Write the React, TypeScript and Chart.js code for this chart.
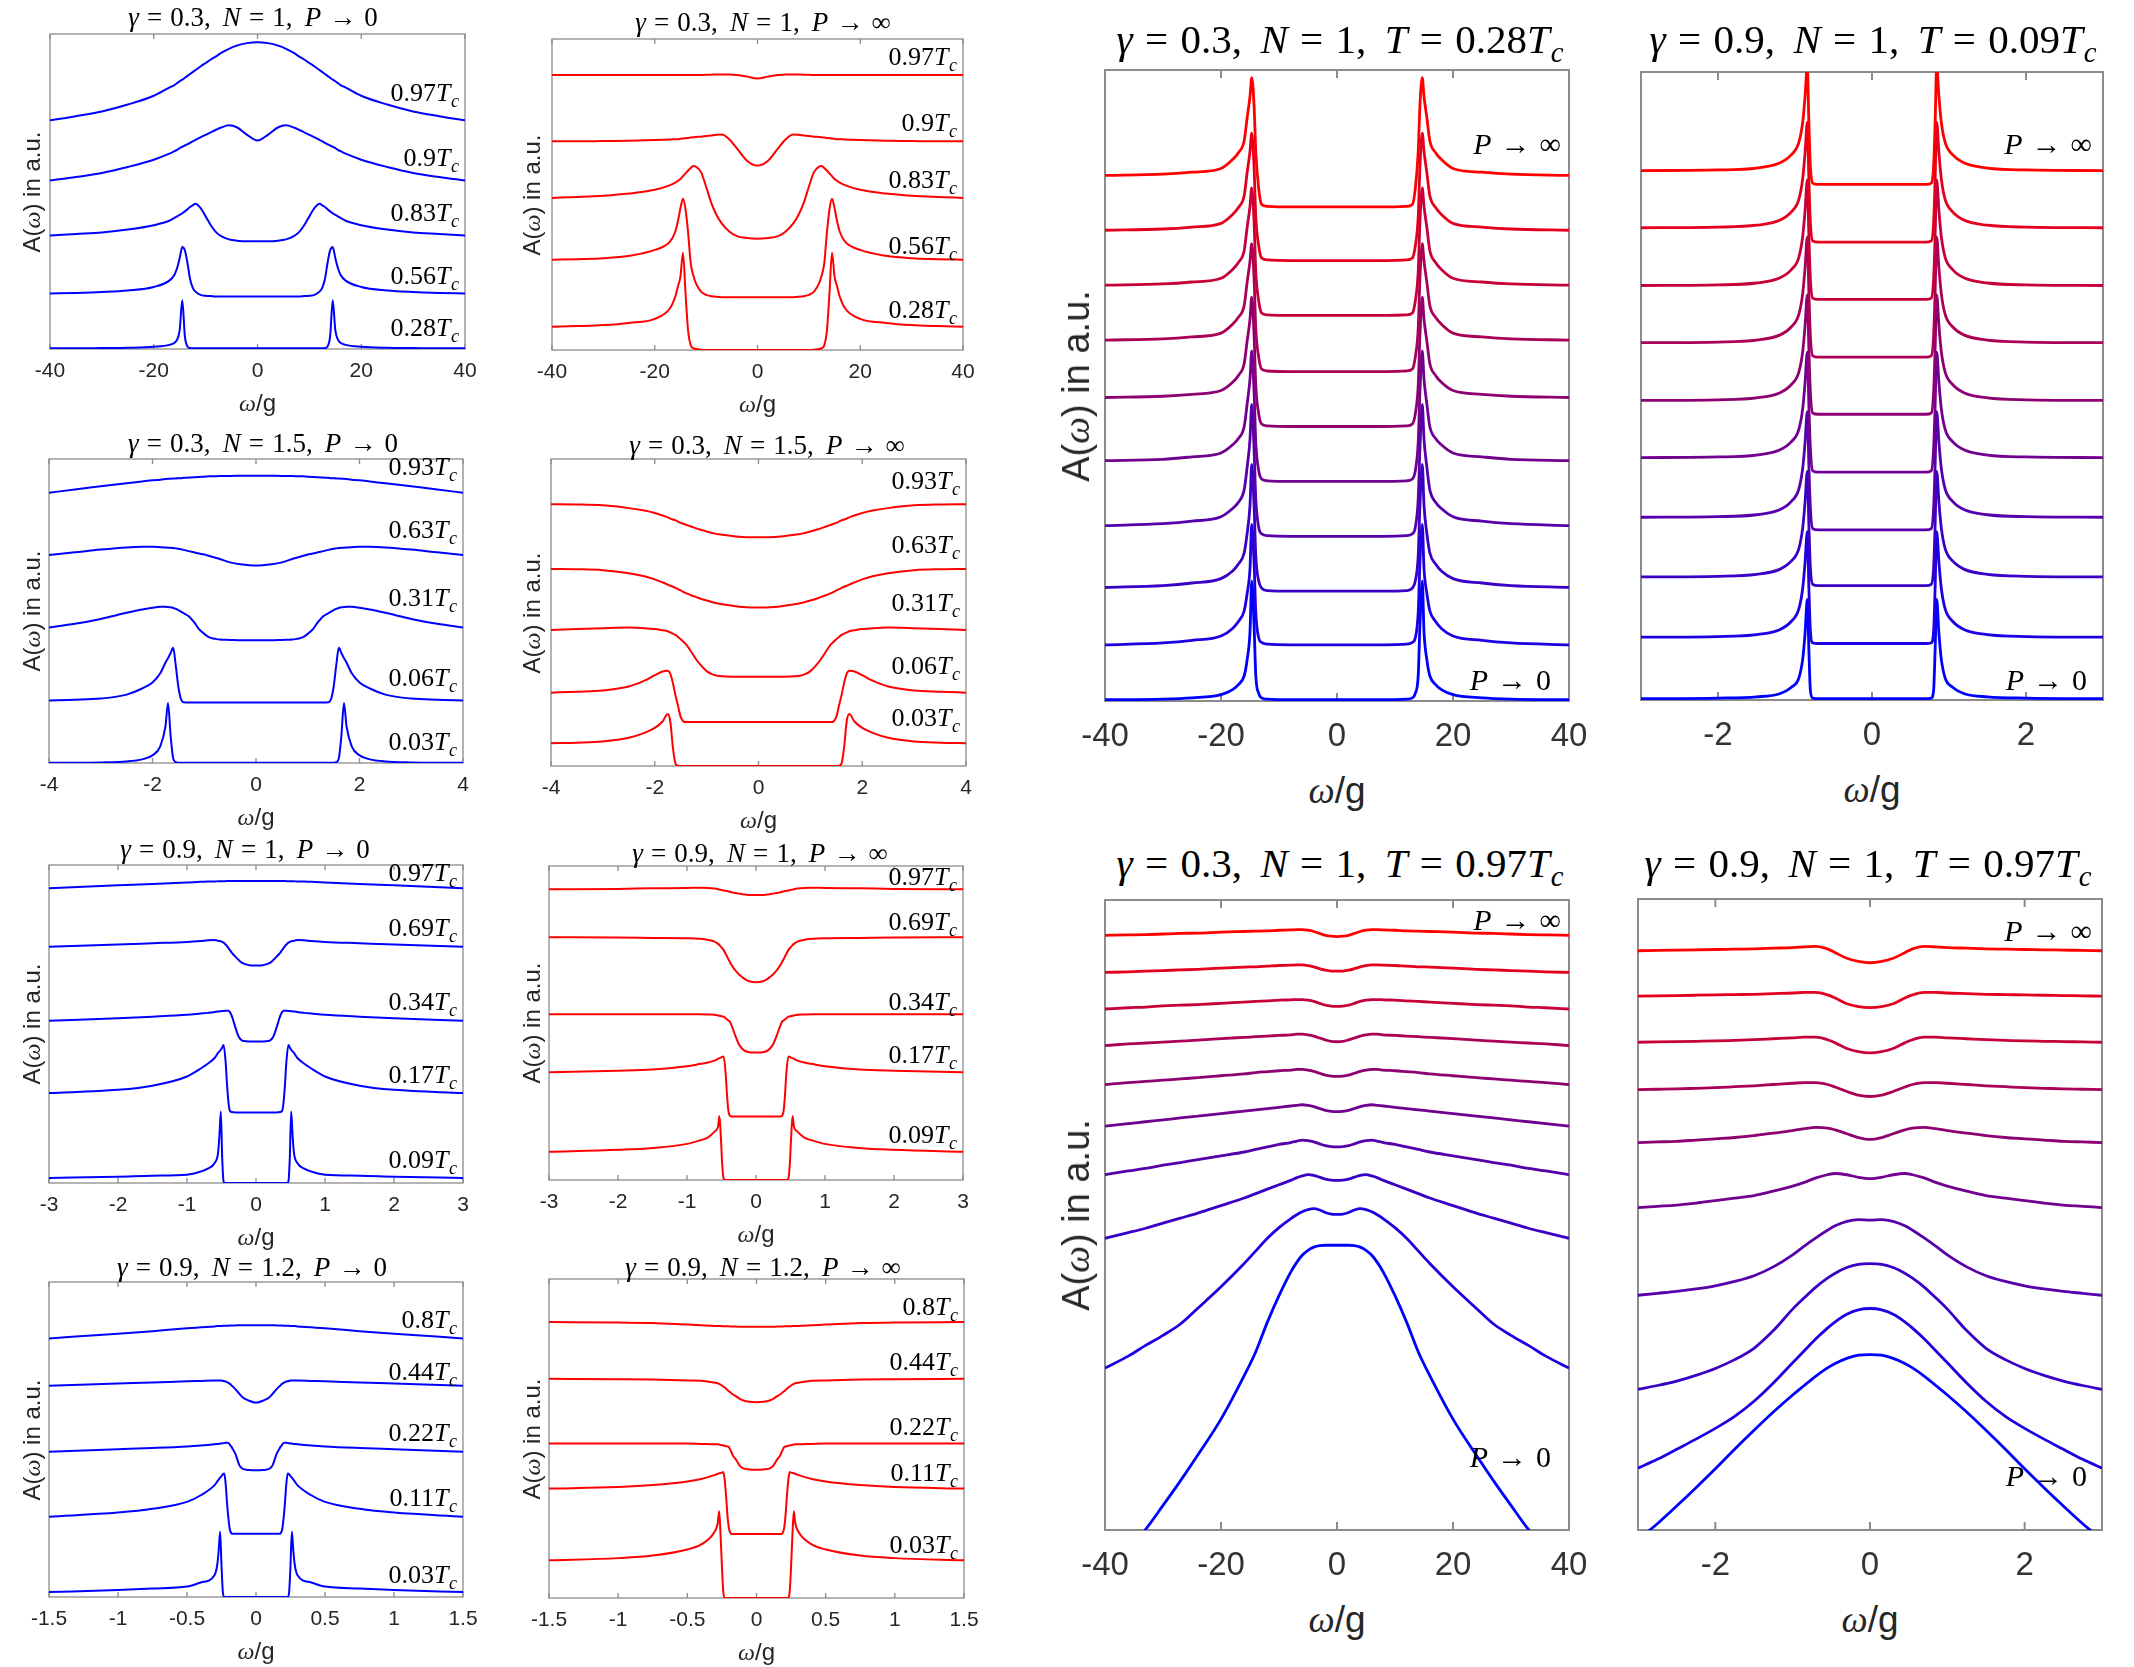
import React, { useEffect, useRef } from "react";
import { Chart, registerables } from "chart.js";
Chart.register(...registerables);

// ---------------- tick labels ----------------
const TICKS_40 = [-40, -20, 0, 20, 40];
const TICKS_4 = [-4, -2, 0, 2, 4];
const TICKS_3 = [-3, -2, -1, 0, 1, 2, 3];
const TICKS_15 = [-1.5, -1, -0.5, 0, 0.5, 1, 1.5];
const TICKS_3B = [-2, 0, 2];

// ---------------- temperature labels ----------------
const LAB_A = ["0.97", "0.9", "0.83", "0.56", "0.28"];
const LAB_B = ["0.93", "0.63", "0.31", "0.06", "0.03"];
const LAB_C = ["0.97", "0.69", "0.34", "0.17", "0.09"];
const LAB_D = ["0.8", "0.44", "0.22", "0.11", "0.03"];

// ---------------- ω/g grids ----------------
const W_A = [-40,-35,-30,-25,-20,-17,-16,-15.5,-15,-14.5,-14,-13.5,-13,-12.5,-12,-11,-10,-9,-8,-7,-5.5,-4,-2,0,
  2,4,5.5,7,8,9,10,11,12,12.5,13,13.5,14,14.5,15,15.5,16,17,20,25,30,35,40];
const W_B = [-4,-3.5,-3,-2.5,-2.2,-2,-1.85,-1.75,-1.7,-1.65,-1.6,-1.55,-1.5,-1.45,-1.4,-1.3,-1.2,-1.1,-1,-0.9,-0.8,-0.7,-0.5,-0.3,0,
  0.3,0.5,0.7,0.8,0.9,1,1.1,1.2,1.3,1.4,1.45,1.5,1.55,1.6,1.65,1.7,1.75,1.85,2,2.2,2.5,3,3.5,4];
const W_C = [-3,-2,-1.5,-1,-0.8,-0.7,-0.6,-0.55,-0.53,-0.51,-0.49,-0.47,-0.44,-0.42,-0.4,-0.38,-0.35,-0.3,-0.25,-0.2,-0.15,-0.1,0,
  0.1,0.15,0.2,0.25,0.3,0.35,0.38,0.4,0.42,0.44,0.47,0.49,0.51,0.53,0.55,0.6,0.7,0.8,1,1.5,2,3];
const W_D = [-1.5,-1,-0.75,-0.5,-0.4,-0.3,-0.28,-0.27,-0.26,-0.25,-0.24,-0.23,-0.22,-0.21,-0.2,-0.19,-0.18,-0.17,-0.15,-0.12,-0.1,-0.05,0,
  0.05,0.1,0.12,0.15,0.17,0.18,0.19,0.2,0.21,0.22,0.23,0.24,0.25,0.26,0.27,0.28,0.3,0.4,0.5,0.75,1,1.5];
const W_E = [-40,-30,-25,-20,-18,-17,-16,-15.5,-15,-14.7,-14.3,-14,-13.5,-13,-12,-8,0,
  8,12,13,13.5,14,14.3,14.7,15,15.5,16,17,18,20,25,30,40];
const W_F = [-3,-2,-1.5,-1.2,-1.05,-0.95,-0.9,-0.87,-0.84,-0.82,-0.8,-0.77,-0.7,-0.3,0,
  0.3,0.7,0.77,0.8,0.82,0.84,0.87,0.9,0.95,1.05,1.2,1.5,2,3];
const W_G = [-40,-36,-33,-30,-27,-24,-20,-16,-14,-12,-10,-8,-7,-6,-5,-4,-3,-2,-1,0,
  1,2,3,4,5,6,7,8,10,12,14,16,20,24,27,30,33,36,40];
const W_H = [-3,-2.75,-2.5,-2.25,-2,-1.75,-1.5,-1.25,-1,-0.85,-0.7,-0.55,-0.45,-0.3,-0.15,0,
  0.15,0.3,0.45,0.55,0.7,0.85,1,1.25,1.5,1.75,2,2.25,2.5,2.75,3];

// ---------------- γ=0.3, N=1, P→0 ----------------
const A0_097 = [72.6,73.9,75.4,77.6,80.4,83.0,83.8,84.4,85.0,85.5,86.1,86.7,87.3,87.9,88.5,89.7,90.8,91.9,92.9,94.0,95.3,96.3,97.1,97.4,
  97.1,96.3,95.3,94.0,92.9,91.9,90.8,89.7,88.5,87.9,87.3,86.7,86.1,85.5,85.0,84.4,83.8,83.0,80.4,77.6,75.4,73.9,72.6];
const A0_090 = [53.5,54.6,55.9,57.8,60.1,62.0,62.8,63.2,63.8,64.2,64.6,65.0,65.4,65.9,66.3,67.2,68.0,68.8,69.6,70.3,71.0,70.4,68.0,66.2,
  68.0,70.4,71.0,70.3,69.6,68.8,68.0,67.2,66.3,65.9,65.4,65.0,64.6,64.2,63.8,63.2,62.8,62.0,60.1,57.8,55.9,54.6,53.5];
const A0_083 = [36.0,36.5,37.0,37.9,39.3,40.7,41.6,42.1,42.6,43.1,43.7,44.4,45.1,45.6,46.1,44.8,42.1,39.3,37.1,35.8,34.8,34.4,34.2,34.2,
  34.2,34.4,34.8,35.8,37.1,39.3,42.1,44.8,46.1,45.6,45.1,44.4,43.7,43.1,42.6,42.1,41.6,40.7,39.3,37.9,37.0,36.5,36.0];
const A0_056 = [17.6,17.8,18.1,18.6,19.7,21.7,23.6,25.7,28.9,32.4,31.3,27.3,22.2,19.5,18.3,17.2,16.9,16.8,16.7,16.7,16.7,16.7,16.7,16.7,
  16.7,16.7,16.7,16.7,16.7,16.8,16.9,17.2,18.3,19.5,22.2,27.3,31.3,32.4,28.9,25.7,23.6,21.7,19.7,18.6,18.1,17.8,17.6];
const A0_028 = [0.2,0.2,0.3,0.4,0.7,1.3,2.0,3.0,6.0,15.5,4.0,0.8,0.3,0.2,0.2,0.2,0.2,0.2,0.2,0.2,0.2,0.2,0.2,0.2,
  0.2,0.2,0.2,0.2,0.2,0.2,0.2,0.2,0.2,0.2,0.3,0.8,4.0,15.5,6.0,3.0,2.0,1.3,0.7,0.4,0.3,0.2,0.2];

// ---------------- γ=0.3, N=1, P→∞ ----------------
const AI_097 = [88.4,88.4,88.4,88.4,88.4,88.4,88.4,88.4,88.4,88.4,88.4,88.4,88.4,88.4,88.4,88.4,88.5,88.5,88.6,88.6,88.6,88.4,87.9,87.3,
  87.9,88.4,88.6,88.6,88.6,88.5,88.5,88.4,88.4,88.4,88.4,88.4,88.4,88.4,88.4,88.4,88.4,88.4,88.4,88.4,88.4,88.4,88.4];
const AI_090 = [67.1,67.1,67.2,67.3,67.5,67.7,67.8,67.8,67.9,68.0,68.1,68.2,68.3,68.4,68.5,68.6,68.8,69.0,69.2,69.3,67.8,64.8,60.8,59.3,
  60.8,64.8,67.8,69.3,69.2,69.0,68.8,68.6,68.5,68.4,68.3,68.2,68.1,68.0,67.9,67.8,67.8,67.7,67.5,67.3,67.2,67.1,67.1];
const AI_083 = [48.9,49.2,49.6,50.3,51.5,53.0,53.8,54.4,55.0,55.9,56.8,57.7,58.5,59.2,59.0,57.2,52.5,47.3,43.5,40.8,38.1,36.6,36.0,35.8,
  36.0,36.6,38.1,40.8,43.5,47.3,52.5,57.2,59.0,59.2,58.5,57.7,56.8,55.9,55.0,54.4,53.8,53.0,51.5,50.3,49.6,49.2,48.9];
const AI_056 = [29.0,29.2,29.5,30.3,32.2,34.9,38.1,41.3,45.6,48.6,45.1,37.6,27.9,24.0,21.5,18.8,17.7,17.3,17.1,17.0,17.0,17.0,17.0,17.0,
  17.0,17.0,17.0,17.0,17.1,17.3,17.7,18.8,21.5,24.0,27.9,37.6,45.1,48.6,45.6,41.3,38.1,34.9,32.2,30.3,29.5,29.2,29.0];
const AI_028 = [7.5,7.7,8.0,8.7,10.0,13.5,17.2,20.4,23.6,31.3,18.0,6.0,1.5,0.6,0.3,0.1,0,0,0,0,0,0,0,0,
  0,0,0,0,0,0,0,0.1,0.3,0.6,1.5,6.0,18.0,31.3,23.6,20.4,17.2,13.5,10.0,8.7,8.0,7.7,7.5];

// ---------------- γ=0.3, N=1.5, P→0 ----------------
const B0_093 = [88.9,90.0,91.0,92.0,92.6,93.0,93.2,93.4,93.5,93.5,93.6,93.6,93.7,93.7,93.8,93.9,94.0,94.1,94.2,94.3,94.3,94.4,94.4,94.5,94.5,
  94.5,94.4,94.4,94.3,94.3,94.2,94.1,94.0,93.9,93.8,93.7,93.7,93.6,93.6,93.5,93.5,93.4,93.2,93.0,92.6,92.0,91.0,90.0,88.9];
const B0_063 = [68.4,69.3,70.2,70.9,71.1,71.1,71.0,70.9,70.8,70.8,70.7,70.6,70.5,70.3,70.1,69.7,69.3,68.9,68.6,68.1,67.6,67.1,66.0,65.4,65.0,
  65.4,66.0,67.1,67.6,68.1,68.6,68.9,69.3,69.7,70.1,70.3,70.5,70.6,70.7,70.8,70.8,70.9,71.0,71.1,71.1,70.9,70.2,69.3,68.4];
const B0_031 = [44.6,45.8,47.4,49.4,50.5,51.1,51.4,51.4,51.3,51.2,51.0,50.7,50.3,49.8,49.3,48.3,46.4,44.0,42.5,41.3,40.9,40.6,40.5,40.4,40.4,
  40.4,40.5,40.6,40.9,41.3,42.5,44.0,46.4,48.3,49.3,49.8,50.3,50.7,51.0,51.2,51.3,51.4,51.4,51.1,50.5,49.4,47.4,45.8,44.6];
const B0_006 = [20.6,20.8,21.2,22.5,24.5,26.5,29.5,33.0,34.5,36.2,37.9,32.0,25.0,21.0,20.0,19.9,19.9,19.9,19.9,19.9,19.9,19.9,19.9,19.9,19.9,
  19.9,19.9,19.9,19.9,19.9,19.9,19.9,19.9,19.9,20.0,21.0,25.0,32.0,37.9,36.2,34.5,33.0,29.5,26.5,24.5,22.5,21.2,20.8,20.6];
const B0_003 = [0.1,0.1,0.2,0.5,1.2,2.5,5.5,12.0,19.7,9.0,1.5,0.3,0.1,0.1,0.1,0.1,0.1,0.1,0.1,0.1,0.1,0.1,0.1,0.1,0.1,
  0.1,0.1,0.1,0.1,0.1,0.1,0.1,0.1,0.1,0.1,0.1,0.1,0.3,1.5,9.0,19.7,12.0,5.5,2.5,1.2,0.5,0.2,0.1,0.1];

// ---------------- γ=0.3, N=1.5, P→∞ ----------------
const BI_093 = [85.3,85.2,84.9,84.0,83.2,82.4,81.6,81.0,80.6,80.3,80.0,79.6,79.2,78.9,78.6,78.0,77.4,76.9,76.4,75.9,75.6,75.3,74.9,74.6,74.5,
  74.6,74.9,75.3,75.6,75.9,76.4,76.9,77.4,78.0,78.6,78.9,79.2,79.6,80.0,80.3,80.6,81.0,81.6,82.4,83.2,84.0,84.9,85.2,85.3];
const BI_063 = [64.2,64.1,63.8,62.8,61.8,60.8,59.8,59.1,58.7,58.4,58.0,57.6,57.2,56.7,56.3,55.6,55.0,54.4,53.9,53.4,53.0,52.7,52.2,51.8,51.6,
  51.8,52.2,52.7,53.0,53.4,53.9,54.4,55.0,55.6,56.3,56.7,57.2,57.6,58.0,58.4,58.7,59.1,59.8,60.8,61.8,62.8,63.8,64.1,64.2];
const BI_031 = [44.3,44.6,44.9,45.1,44.9,44.6,44.2,43.9,43.5,43.1,42.7,42.0,41.3,40.5,39.7,37.3,34.7,32.6,30.9,29.9,29.4,29.2,29.1,29.1,29.1,
  29.1,29.1,29.2,29.4,29.9,30.9,32.6,34.7,37.3,39.7,40.5,41.3,42.0,42.7,43.1,43.5,43.9,44.2,44.6,44.9,45.1,44.9,44.6,44.3];
const BI_006 = [23.9,24.2,24.6,25.9,27.8,29.6,30.8,31.0,30.0,27.0,23.0,19.5,16.0,14.6,14.3,14.3,14.3,14.3,14.3,14.3,14.3,14.3,14.3,14.3,14.3,
  14.3,14.3,14.3,14.3,14.3,14.3,14.3,14.3,14.3,14.3,14.6,16.0,19.5,23.0,27.0,30.0,31.0,30.8,29.6,27.8,25.9,24.6,24.2,23.9];
const BI_003 = [7.4,7.6,8.0,9.2,10.8,12.4,14.5,16.9,14.5,6.0,0.8,0.1,0,0,0,0,0,0,0,0,0,0,0,0,0,
  0,0,0,0,0,0,0,0,0,0,0,0,0.1,0.8,6.0,14.5,16.9,14.5,12.4,10.8,9.2,8.0,7.6,7.4];

// ---------------- γ=0.9, N=1, P→0 ----------------
const C0_097 = [92.7,93.6,94.0,94.5,94.7,94.8,94.8,94.9,94.9,94.9,94.9,94.9,94.9,95.0,95.0,95.0,95.0,95.0,95.0,95.0,95.0,95.0,95.0,
  95.0,95.0,95.0,95.0,95.0,95.0,95.0,95.0,95.0,94.9,94.9,94.9,94.9,94.9,94.9,94.8,94.8,94.7,94.5,94.0,93.6,92.7];
const C0_069 = [74.3,75.0,75.4,75.8,76.1,76.3,76.4,76.2,76.1,76.0,75.8,75.6,75.0,74.5,73.9,73.3,72.4,71.2,70.1,69.2,68.8,68.5,68.4,
  68.5,68.8,69.2,70.1,71.2,72.4,73.3,73.9,74.5,75.0,75.6,75.8,76.0,76.1,76.2,76.4,76.3,76.1,75.8,75.4,75.0,74.3];
const C0_034 = [51.0,51.8,52.3,52.9,53.3,53.5,53.8,53.9,54.0,54.0,54.1,54.1,54.2,54.2,54.2,53.8,52.5,49.0,46.0,44.8,44.6,44.5,44.5,
  44.5,44.6,44.8,46.0,49.0,52.5,53.8,54.2,54.2,54.2,54.1,54.1,54.0,54.0,53.9,53.8,53.5,53.3,52.9,52.3,51.8,51.0];
const C0_017 = [28.3,29.3,30.6,33.5,36.0,37.5,39.3,40.9,41.4,41.9,42.6,43.4,38.0,31.0,25.5,22.8,22.3,22.2,22.2,22.2,22.2,22.2,22.2,
  22.2,22.2,22.2,22.2,22.2,22.3,22.8,25.5,31.0,38.0,43.4,42.6,41.9,41.4,40.9,39.3,37.5,36.0,33.5,30.6,29.3,28.3];
const C0_009 = [1.6,2.0,2.3,2.6,3.6,4.5,6.3,9.5,15.0,22.5,8.0,0.5,0,0,0,0,0,0,0,0,0,0,0,
  0,0,0,0,0,0,0,0,0,0,0.5,8.0,22.5,15.0,9.5,6.3,4.5,3.6,2.6,2.3,2.0,1.6];

// ---------------- γ=0.9, N=1, P→∞ ----------------
const CI_097 = [92.6,92.7,92.9,93.0,93.1,93.0,92.8,92.6,92.5,92.4,92.3,92.2,92.1,92.0,91.9,91.8,91.6,91.4,91.2,91.0,90.9,90.8,90.8,
  90.8,90.9,91.0,91.2,91.4,91.6,91.8,91.9,92.0,92.1,92.2,92.3,92.4,92.5,92.6,92.8,93.0,93.1,93.0,92.9,92.7,92.6];
const CI_069 = [77.3,77.2,77.1,77.0,76.8,76.5,75.9,75.2,74.8,74.3,73.8,73.3,72.0,71.2,70.3,69.5,68.3,66.8,65.5,64.6,63.8,63.3,63.0,
  63.3,63.8,64.6,65.5,66.8,68.3,69.5,70.3,71.2,72.0,73.3,73.8,74.3,74.8,75.2,75.9,76.5,76.8,77.0,77.1,77.2,77.3];
const CI_034 = [52.8,52.8,52.8,52.8,52.8,52.7,52.6,52.4,52.3,52.2,52.1,52.0,51.5,51.1,50.8,50.5,49.0,46.0,43.3,41.8,41.0,40.7,40.6,
  40.7,41.0,41.8,43.3,46.0,49.0,50.5,50.8,51.1,51.5,52.0,52.1,52.2,52.3,52.4,52.6,52.7,52.8,52.8,52.8,52.8,52.8];
const CI_017 = [34.3,34.8,35.2,36.2,37.0,37.4,38.0,38.6,38.8,39.0,39.2,39.3,34.0,27.0,22.0,20.5,20.2,20.2,20.2,20.2,20.2,20.2,20.2,
  20.2,20.2,20.2,20.2,20.2,20.2,20.5,22.0,27.0,34.0,39.3,39.2,39.0,38.8,38.6,38.0,37.4,37.0,36.2,35.2,34.8,34.3];
const CI_009 = [9.0,9.6,10.2,11.5,12.7,13.5,15.4,17.0,20.4,14.0,5.0,0.5,0,0,0,0,0,0,0,0,0,0,0,
  0,0,0,0,0,0,0,0,0,0,0.5,5.0,14.0,20.4,17.0,15.4,13.5,12.7,11.5,10.2,9.6,9.0];

// ---------------- γ=0.9, N=1.2, P→0 ----------------
const D0_08 = [82.1,83.6,84.4,85.3,85.6,85.9,86.0,86.0,86.0,86.0,86.1,86.1,86.1,86.1,86.1,86.2,86.2,86.2,86.2,86.3,86.3,86.3,86.3,
  86.3,86.3,86.3,86.2,86.2,86.2,86.2,86.1,86.1,86.1,86.1,86.1,86.0,86.0,86.0,86.0,85.9,85.6,85.3,84.4,83.6,82.1];
const D0_044 = [67.1,67.8,68.1,68.5,68.6,68.7,68.7,68.7,68.7,68.7,68.6,68.5,68.4,68.2,68.0,67.7,67.3,66.9,66.0,64.5,63.5,62.3,61.7,
  62.3,63.5,64.5,66.0,66.9,67.3,67.7,68.0,68.2,68.4,68.5,68.6,68.7,68.7,68.7,68.7,68.7,68.6,68.5,68.1,67.8,67.1];
const D0_022 = [46.1,46.9,47.3,47.8,48.1,48.5,48.6,48.6,48.7,48.7,48.8,48.9,49.0,49.0,48.9,48.4,47.8,47.1,45.5,41.8,40.8,40.3,40.2,
  40.3,40.8,41.8,45.5,47.1,47.8,48.4,48.9,49.0,49.0,48.9,48.8,48.7,48.7,48.6,48.6,48.5,48.1,47.8,47.3,46.9,46.1];
const D0_011 = [25.5,26.8,28.0,30.2,32.3,35.5,36.7,37.3,37.9,38.4,39.0,39.2,36.0,30.0,25.0,21.5,20.3,20.1,20.1,20.1,20.1,20.1,20.1,
  20.1,20.1,20.1,20.1,20.1,20.3,21.5,25.0,30.0,36.0,39.2,39.0,38.4,37.9,37.3,36.7,35.5,32.3,30.2,28.0,26.8,25.5];
const D0_003 = [1.6,2.2,2.7,3.3,4.6,7.0,10.5,15.0,20.7,10.0,1.5,0,0,0,0,0,0,0,0,0,0,0,0,
  0,0,0,0,0,0,0,0,0,0,0,1.5,10.0,20.7,15.0,10.5,7.0,4.6,3.3,2.7,2.2,1.6];

// ---------------- γ=0.9, N=1.2, P→∞ ----------------
const DI_08 = [86.5,86.4,86.2,85.7,85.5,85.3,85.3,85.3,85.3,85.2,85.2,85.2,85.2,85.2,85.2,85.1,85.1,85.1,85.1,85.0,85.0,85.0,85.0,
  85.0,85.0,85.0,85.1,85.1,85.1,85.1,85.2,85.2,85.2,85.2,85.2,85.2,85.3,85.3,85.3,85.3,85.5,85.7,86.2,86.4,86.5];
const DI_044 = [68.7,68.6,68.5,68.2,68.1,67.5,67.3,67.1,66.9,66.6,66.3,66.0,65.6,65.2,64.8,64.5,64.1,63.8,63.3,62.4,62.0,61.5,61.4,
  61.5,62.0,62.4,63.3,63.8,64.1,64.5,64.8,65.2,65.6,66.0,66.3,66.6,66.9,67.1,67.3,67.5,68.1,68.2,68.5,68.6,68.7];
const DI_022 = [48.4,48.4,48.4,48.4,48.3,48.2,48.2,48.1,48.0,47.9,47.8,47.7,47.6,47.5,47.3,46.5,45.6,44.6,43.5,41.4,40.7,40.3,40.2,
  40.3,40.7,41.4,43.5,44.6,45.6,46.5,47.3,47.5,47.6,47.7,47.8,47.9,48.0,48.1,48.2,48.2,48.3,48.4,48.4,48.4,48.4];
const DI_011 = [34.3,34.8,35.4,36.5,37.3,38.6,38.9,39.1,39.2,39.3,39.5,37.0,32.0,26.0,22.0,20.5,20.1,20.1,20.1,20.1,20.1,20.1,20.1,
  20.1,20.1,20.1,20.1,20.1,20.1,20.5,22.0,26.0,32.0,37.0,39.5,39.3,39.2,39.1,38.9,38.6,37.3,36.5,35.4,34.8,34.3];
const DI_003 = [11.8,12.5,13.3,15.2,16.8,21.0,23.5,27.2,20.0,10.0,2.0,0,0,0,0,0,0,0,0,0,0,0,0,
  0,0,0,0,0,0,0,0,0,0,0,2.0,10.0,20.0,27.2,23.5,21.0,16.8,15.2,13.3,12.5,11.8];

// ---------------- big: γ=0.3, N=1, T=0.28Tc (top = P→∞ first) ----------------
const E_1 = [83.3,83.5,83.8,84.4,85.8,86.9,88.8,92.4,95.8,98.8,94.4,87.0,81.2,78.7,78.4,78.3,78.3,
  78.3,78.4,78.7,81.2,87.0,94.4,98.8,95.8,92.4,88.8,86.9,85.8,84.4,83.8,83.5,83.3];
const E_2 = [74.6,74.8,75.1,75.7,77.1,78.2,80.1,83.7,87.1,90.0,84.7,76.7,72.1,70.2,69.9,69.8,69.8,
  69.8,69.9,70.2,72.1,76.7,84.7,90.0,87.1,83.7,80.1,78.2,77.1,75.7,75.1,74.8,74.6];
const E_3 = [65.9,66.1,66.4,67.0,68.4,69.5,71.4,75.0,78.4,81.3,76.0,68.0,63.4,61.5,61.2,61.1,61.1,
  61.1,61.2,61.5,63.4,68.0,76.0,81.3,78.4,75.0,71.4,69.5,68.4,67.0,66.4,66.1,65.9];
const E_4 = [57.2,57.4,57.7,58.3,59.7,60.8,62.7,66.3,69.7,72.5,67.0,59.0,54.5,52.6,52.3,52.2,52.2,
  52.2,52.3,52.6,54.5,59.0,67.0,72.5,69.7,66.3,62.7,60.8,59.7,58.3,57.7,57.4,57.2];
const E_5 = [48.1,48.3,48.6,49.2,50.5,51.6,53.5,57.0,60.5,64.0,58.0,50.0,45.5,43.9,43.6,43.5,43.5,
  43.5,43.6,43.9,45.5,50.0,58.0,64.0,60.5,57.0,53.5,51.6,50.5,49.2,48.6,48.3,48.1];
const E_6 = [38.1,38.3,38.7,39.3,40.6,41.6,43.5,47.0,51.0,55.5,49.0,41.0,36.5,35.2,34.9,34.8,34.8,
  34.8,34.9,35.2,36.5,41.0,49.0,55.5,51.0,47.0,43.5,41.6,40.6,39.3,38.7,38.3,38.1];
const E_7 = [27.8,28.1,28.5,29.2,30.5,31.5,33.5,37.0,41.5,47.0,40.0,32.0,27.5,26.5,26.2,26.1,26.1,
  26.1,26.2,26.5,27.5,32.0,40.0,47.0,41.5,37.0,33.5,31.5,30.5,29.2,28.5,28.1,27.8];
const E_8 = [18.0,18.3,18.7,19.4,20.6,21.7,23.5,26.5,31.0,37.5,31.0,23.0,19.0,17.9,17.5,17.4,17.4,
  17.4,17.5,17.9,19.0,23.0,31.0,37.5,31.0,26.5,23.5,21.7,20.6,19.4,18.7,18.3,18.0];
const E_9 = [8.9,9.2,9.6,10.3,11.5,12.6,14.3,17.0,21.0,28.0,22.0,14.0,10.0,9.3,9.0,8.9,8.9,
  8.9,9.0,9.3,10.0,14.0,22.0,28.0,21.0,17.0,14.3,12.6,11.5,10.3,9.6,9.2,8.9];
const E_10 = [0.2,0.3,0.5,1.0,1.8,2.6,4.0,6.5,11.0,19.0,12.0,4.0,1.2,0.5,0.3,0.2,0.2,
  0.2,0.3,0.5,1.2,4.0,12.0,19.0,11.0,6.5,4.0,2.6,1.8,1.0,0.5,0.3,0.2];

// ---------------- big: γ=0.9, N=1, T=0.09Tc ----------------
const F_1 = [84.3,84.4,84.7,85.5,86.8,88.8,92.0,96.0,101,92.0,85.0,82.3,82.1,82.1,82.1,
  82.1,82.1,82.3,85.0,92.0,101,96.0,92.0,88.8,86.8,85.5,84.7,84.4,84.3];
const F_2 = [75.2,75.3,75.6,76.4,77.7,79.7,83.0,87.0,92.0,83.0,76.0,73.1,72.9,72.9,72.9,
  72.9,72.9,73.1,76.0,83.0,92.0,87.0,83.0,79.7,77.7,76.4,75.6,75.3,75.2];
const F_3 = [66.0,66.1,66.4,67.2,68.5,70.5,73.8,77.8,82.8,74.0,67.0,64.0,63.8,63.8,63.8,
  63.8,63.8,64.0,67.0,74.0,82.8,77.8,73.8,70.5,68.5,67.2,66.4,66.1,66.0];
const F_4 = [56.9,57.0,57.3,58.1,59.4,61.4,64.7,68.7,73.7,65.0,58.0,54.8,54.6,54.6,54.6,
  54.6,54.6,54.8,58.0,65.0,73.7,68.7,64.7,61.4,59.4,58.1,57.3,57.0,56.9];
const F_5 = [47.7,47.8,48.1,48.9,50.2,52.2,55.5,59.5,64.5,56.0,49.0,45.7,45.5,45.5,45.5,
  45.5,45.5,45.7,49.0,56.0,64.5,59.5,55.5,52.2,50.2,48.9,48.1,47.8,47.7];
const F_6 = [38.6,38.7,39.0,39.8,41.1,43.1,46.4,50.4,55.4,47.0,40.0,36.5,36.3,36.3,36.3,
  36.3,36.3,36.5,40.0,47.0,55.4,50.4,46.4,43.1,41.1,39.8,39.0,38.7,38.6];
const F_7 = [29.1,29.2,29.5,30.3,31.6,33.6,36.9,40.9,45.9,37.5,30.5,27.3,27.1,27.1,27.1,
  27.1,27.1,27.3,30.5,37.5,45.9,40.9,36.9,33.6,31.6,30.3,29.5,29.2,29.1];
const F_8 = [19.6,19.7,20.0,20.8,22.1,24.1,27.4,31.4,36.4,28.0,21.0,18.4,18.2,18.2,18.2,
  18.2,18.2,18.4,21.0,28.0,36.4,31.4,27.4,24.1,22.1,20.8,20.0,19.7,19.6];
const F_9 = [10.0,10.1,10.4,11.2,12.5,14.5,17.8,21.8,26.8,18.0,11.0,9.1,9.0,9.0,9.0,
  9.0,9.0,9.1,11.0,18.0,26.8,21.8,17.8,14.5,12.5,11.2,10.4,10.1,10.0];
const F_10 = [0.2,0.3,0.5,1.0,2.0,3.5,6.5,10.5,16.0,8.0,1.5,0.3,0.2,0.2,0.2,
  0.2,0.2,0.3,1.5,8.0,16.0,10.5,6.5,3.5,2.0,1.0,0.5,0.3,0.2];

// ---------------- big: γ=0.3, N=1, T=0.97Tc ----------------
const G_1 = [94.4,94.45,94.5,94.6,94.7,94.75,94.9,95.0,95.05,95.1,95.2,95.25,95.3,95.3,95.2,95.0,94.7,94.4,94.25,94.2,
  94.25,94.4,94.7,95.0,95.2,95.3,95.3,95.25,95.2,95.1,95.05,95.0,94.9,94.75,94.7,94.6,94.5,94.45,94.4];
const G_2 = [88.5,88.6,88.7,88.8,88.9,89.0,89.2,89.35,89.4,89.5,89.6,89.65,89.7,89.7,89.6,89.4,89.1,88.85,88.72,88.7,
  88.72,88.85,89.1,89.4,89.6,89.7,89.7,89.65,89.6,89.5,89.4,89.35,89.2,89.0,88.9,88.8,88.7,88.6,88.5];
const G_3 = [82.7,82.9,83.0,83.2,83.3,83.4,83.6,83.8,83.9,84.0,84.1,84.15,84.2,84.2,84.1,83.9,83.6,83.3,83.15,83.1,
  83.15,83.3,83.6,83.9,84.1,84.2,84.2,84.15,84.1,84.0,83.9,83.8,83.6,83.4,83.3,83.2,83.0,82.9,82.7];
const G_4 = [76.9,77.15,77.3,77.45,77.6,77.75,78.0,78.2,78.3,78.4,78.5,78.6,78.7,78.7,78.6,78.4,78.1,77.8,77.55,77.5,
  77.55,77.8,78.1,78.4,78.6,78.7,78.7,78.6,78.5,78.4,78.3,78.2,78.0,77.75,77.6,77.45,77.3,77.15,76.9];
const G_5 = [70.7,71.0,71.2,71.4,71.6,71.8,72.1,72.4,72.6,72.75,72.9,73.0,73.1,73.1,73.0,72.8,72.5,72.2,72.05,72.0,
  72.05,72.2,72.5,72.8,73.0,73.1,73.1,73.0,72.9,72.75,72.6,72.4,72.1,71.8,71.6,71.4,71.2,71.0,70.7];
const G_6 = [64.1,64.5,64.8,65.1,65.4,65.7,66.1,66.5,66.7,66.9,67.1,67.3,67.4,67.5,67.4,67.2,66.9,66.6,66.45,66.4,
  66.45,66.6,66.9,67.2,67.4,67.5,67.4,67.3,67.1,66.9,66.7,66.5,66.1,65.7,65.4,65.1,64.8,64.5,64.1];
const G_7 = [56.4,57.0,57.4,57.9,58.3,58.8,59.4,60.0,60.4,60.8,61.2,61.5,61.7,61.9,61.8,61.6,61.3,61.0,60.85,60.8,
  60.85,61.0,61.3,61.6,61.8,61.9,61.7,61.5,61.2,60.8,60.4,60.0,59.4,58.8,58.3,57.9,57.4,57.0,56.4];
const G_8 = [46.3,47.2,47.9,48.7,49.5,50.3,51.5,52.7,53.4,54.1,54.8,55.5,55.9,56.2,56.4,56.3,56.0,55.7,55.55,55.5,
  55.55,55.7,56.0,56.3,56.4,56.2,55.9,55.5,54.8,54.1,53.4,52.7,51.5,50.3,49.5,48.7,47.9,47.2,46.3];
const G_9 = [25.7,27.6,29.3,30.9,32.7,35.2,38.6,42.3,44.3,46.3,48.0,49.4,50.0,50.5,50.85,51.0,50.8,50.4,50.15,50.1,
  50.15,50.4,50.8,51.0,50.85,50.5,50.0,49.4,48.0,46.3,44.3,42.3,38.6,35.2,32.7,30.9,29.3,27.6,25.7];
const G_10 = [-7.0,-3.0,0.1,3.9,7.8,11.9,17.6,24.5,28.3,33.0,37.2,40.9,42.4,43.6,44.4,44.9,45.15,45.2,45.2,45.2,
  45.2,45.2,45.15,44.9,44.4,43.6,42.4,40.9,37.2,33.0,28.3,24.5,17.6,11.9,7.8,3.9,0.1,-3.0,-7.0];

// ---------------- big: γ=0.9, N=1, T=0.97Tc ----------------
const H_1 = [91.8,91.85,91.9,91.95,92.0,92.05,92.1,92.2,92.3,92.4,92.5,92.1,91.5,90.6,90.1,89.9,
  90.1,90.6,91.5,92.1,92.5,92.4,92.3,92.2,92.1,92.05,92.0,91.95,91.9,91.85,91.8];
const H_2 = [84.6,84.65,84.7,84.75,84.8,84.85,84.9,85.0,85.1,85.2,85.2,84.8,84.3,83.4,82.95,82.8,
  82.95,83.4,84.3,84.8,85.2,85.2,85.1,85.0,84.9,84.85,84.8,84.75,84.7,84.65,84.6];
const H_3 = [77.3,77.35,77.4,77.45,77.5,77.6,77.7,77.85,78.0,78.1,78.1,77.7,77.2,76.3,75.8,75.6,
  75.8,76.3,77.2,77.7,78.1,78.1,78.0,77.85,77.7,77.6,77.5,77.45,77.4,77.35,77.3];
const H_4 = [69.8,69.85,69.9,70.0,70.1,70.25,70.4,70.6,70.8,70.9,70.9,70.6,70.2,69.5,68.9,68.7,
  68.9,69.5,70.2,70.6,70.9,70.9,70.8,70.6,70.4,70.25,70.1,70.0,69.9,69.85,69.8];
const H_5 = [61.4,61.5,61.6,61.8,62.0,62.2,62.5,62.9,63.3,63.6,63.8,63.7,63.4,62.8,62.2,61.9,
  62.2,62.8,63.4,63.7,63.8,63.6,63.3,62.9,62.5,62.2,62.0,61.8,61.6,61.5,61.4];
const H_6 = [51.1,51.3,51.5,51.8,52.2,52.6,53.0,53.7,54.5,55.1,55.8,56.3,56.5,56.3,55.9,55.7,
  55.9,56.3,56.5,56.3,55.8,55.1,54.5,53.7,53.0,52.6,52.2,51.8,51.5,51.3,51.1];
const H_7 = [37.2,37.5,37.8,38.2,38.7,39.4,40.3,41.7,43.6,45.0,46.3,47.5,48.2,48.9,49.2,49.1,
  49.2,48.9,48.2,47.5,46.3,45.0,43.6,41.7,40.3,39.4,38.7,38.2,37.8,37.5,37.2];
const H_8 = [22.3,22.9,23.6,24.5,25.6,27.0,28.8,31.6,35.0,36.8,38.5,39.9,40.7,41.6,42.1,42.2,
  42.1,41.6,40.7,39.9,38.5,36.8,35.0,31.6,28.8,27.0,25.6,24.5,23.6,22.9,22.3];
const H_9 = [9.8,11.2,12.8,14.4,16.1,18.0,20.4,23.3,26.5,28.4,30.3,32.0,33.0,34.2,34.9,35.1,
  34.9,34.2,33.0,32.0,30.3,28.4,26.5,23.3,20.4,18.0,16.1,14.4,12.8,11.2,9.8];
const H_10 = [-1.5,1.0,3.8,6.7,9.7,12.8,15.8,18.7,21.4,22.9,24.4,25.7,26.4,27.2,27.7,27.8,
  27.7,27.2,26.4,25.7,24.4,22.9,21.4,18.7,15.8,12.8,9.7,6.7,3.8,1.0,-1.5];

// ---------------- styles ----------------
const SERIF = '"Liberation Serif","Times New Roman",Times,serif';
const SANS = '"Liberation Sans",Arial,Helvetica,sans-serif';
const BLUE = "#0000ff";
const RED = "#ff0000";
const BIG_COLORS = Array.from({ length: 10 }, (_, i) =>
  `rgb(${Math.round((255 * (9 - i)) / 9)},0,${Math.round((255 * i) / 9)})`
);
const SMALL_STYLE = { lw: 2, tickSize: 21, tickPad: 10, tickColor: "#262626", boxW: 1.3, tickLen: 5, bottomH: 42 };
const BIG_STYLE = { lw: 2.8, tickSize: 33, tickPad: 16, tickColor: "#333333", boxW: 2, tickLen: 8, bottomH: 64 };

const five = (c: string) => [c, c, c, c, c];

const SPECS: any[] = [
  { id: "a0", L: 50, T: 34, R: 465, B: 349, xmin: -40, xmax: 40, ticks: TICKS_40, w: W_A,
    series: [A0_097, A0_090, A0_083, A0_056, A0_028], colors: five(BLUE), ...SMALL_STYLE },
  { id: "aI", L: 552, T: 39, R: 963, B: 350, xmin: -40, xmax: 40, ticks: TICKS_40, w: W_A,
    series: [AI_097, AI_090, AI_083, AI_056, AI_028], colors: five(RED), ...SMALL_STYLE },
  { id: "b0", L: 49, T: 459, R: 463, B: 763, xmin: -4, xmax: 4, ticks: TICKS_4, w: W_B,
    series: [B0_093, B0_063, B0_031, B0_006, B0_003], colors: five(BLUE), ...SMALL_STYLE },
  { id: "bI", L: 551, T: 459, R: 966, B: 766, xmin: -4, xmax: 4, ticks: TICKS_4, w: W_B,
    series: [BI_093, BI_063, BI_031, BI_006, BI_003], colors: five(RED), ...SMALL_STYLE },
  { id: "c0", L: 49, T: 865, R: 463, B: 1183, xmin: -3, xmax: 3, ticks: TICKS_3, w: W_C,
    series: [C0_097, C0_069, C0_034, C0_017, C0_009], colors: five(BLUE), ...SMALL_STYLE },
  { id: "cI", L: 549, T: 866, R: 963, B: 1180, xmin: -3, xmax: 3, ticks: TICKS_3, w: W_C,
    series: [CI_097, CI_069, CI_034, CI_017, CI_009], colors: five(RED), ...SMALL_STYLE },
  { id: "d0", L: 49, T: 1282, R: 463, B: 1597, xmin: -1.5, xmax: 1.5, ticks: TICKS_15, w: W_D,
    series: [D0_08, D0_044, D0_022, D0_011, D0_003], colors: five(BLUE), ...SMALL_STYLE },
  { id: "dI", L: 549, T: 1279, R: 964, B: 1598, xmin: -1.5, xmax: 1.5, ticks: TICKS_15, w: W_D,
    series: [DI_08, DI_044, DI_022, DI_011, DI_003], colors: five(RED), ...SMALL_STYLE },
  { id: "E", L: 1105, T: 70, R: 1569, B: 701, xmin: -40, xmax: 40, ticks: TICKS_40, w: W_E,
    series: [E_1, E_2, E_3, E_4, E_5, E_6, E_7, E_8, E_9, E_10], colors: BIG_COLORS, ...BIG_STYLE },
  { id: "F", L: 1641, T: 72, R: 2103, B: 700, xmin: -3, xmax: 3, ticks: TICKS_3B, w: W_F,
    series: [F_1, F_2, F_3, F_4, F_5, F_6, F_7, F_8, F_9, F_10], colors: BIG_COLORS, ...BIG_STYLE },
  { id: "G", L: 1105, T: 900, R: 1569, B: 1530, xmin: -40, xmax: 40, ticks: TICKS_40, w: W_G,
    series: [G_1, G_2, G_3, G_4, G_5, G_6, G_7, G_8, G_9, G_10], colors: BIG_COLORS, ...BIG_STYLE },
  { id: "H", L: 1638, T: 899, R: 2102, B: 1530, xmin: -3, xmax: 3, ticks: TICKS_3B, w: W_H,
    series: [H_1, H_2, H_3, H_4, H_5, H_6, H_7, H_8, H_9, H_10], colors: BIG_COLORS, ...BIG_STYLE },
];

const PAD_X = 50;
const PAD_T = 6;

function PanelChart({ spec }: { spec: any }) {
  const ref = useRef<HTMLCanvasElement | null>(null);
  const cw = spec.R - spec.L + 2 * PAD_X;
  const ch = spec.B - spec.T + PAD_T + spec.bottomH;
  useEffect(() => {
    const canvas = ref.current;
    if (!canvas) return;
    const frame = {
      id: "frame_" + spec.id,
      beforeDatasetsDraw(chart: any) {
        const { ctx, chartArea: a } = chart;
        const xs = chart.scales.x;
        ctx.save();
        ctx.strokeStyle = "#8c8c8c";
        ctx.lineWidth = spec.boxW;
        ctx.strokeRect(a.left, a.top, a.right - a.left, a.bottom - a.top);
        ctx.beginPath();
        for (const t of xs.ticks) {
          const px = xs.getPixelForValue(t.value);
          ctx.moveTo(px, a.bottom);
          ctx.lineTo(px, a.bottom - spec.tickLen);
          ctx.moveTo(px, a.top);
          ctx.lineTo(px, a.top + spec.tickLen);
        }
        ctx.stroke();
        ctx.restore();
      },
    };
    const chart = new Chart(canvas, {
      type: "line",
      data: {
        datasets: spec.series.map((s: number[], i: number) => ({
          data: s.map((v: number, j: number) => ({ x: spec.w[j], y: v })),
          borderColor: spec.colors[i],
          backgroundColor: spec.colors[i],
          borderWidth: spec.lw,
          pointRadius: 0,
          fill: false,
          cubicInterpolationMode: "monotone",
          capBezierPoints: false,
          borderJoinStyle: "round",
        })),
      },
      options: {
        animation: false,
        responsive: false,
        maintainAspectRatio: false,
        events: [],
        layout: { padding: { left: PAD_X, right: PAD_X, top: PAD_T, bottom: 0 } },
        plugins: { legend: { display: false }, tooltip: { enabled: false }, title: { display: false } },
        scales: {
          x: {
            type: "linear",
            min: spec.xmin,
            max: spec.xmax,
            afterBuildTicks: (s: any) => {
              s.ticks = spec.ticks.map((v: number) => ({ value: v }));
            },
            afterFit: (s: any) => {
              s.height = spec.bottomH;
            },
            grid: { display: false, drawTicks: false },
            border: { display: false },
            ticks: {
              autoSkip: false,
              maxRotation: 0,
              padding: spec.tickPad,
              color: spec.tickColor,
              font: { family: SANS, size: spec.tickSize },
              callback: (v: any) => String(v),
            },
          },
          y: { display: false, min: 0, max: 100 },
        },
      },
      plugins: [frame],
    });
    return () => chart.destroy();
  }, [spec]);
  return (
    <canvas
      ref={ref}
      width={cw}
      height={ch}
      style={{ position: "absolute", left: spec.L - PAD_X, top: spec.T - PAD_T, width: cw, height: ch }}
    />
  );
}

// ---------------- text helpers ----------------
function Txt({ x, y, anchor = "c", rot = false, style, children }: any) {
  const tx = anchor === "c" ? "-50%" : anchor === "r" ? "-100%" : "0";
  return (
    <div
      style={{
        position: "absolute",
        left: x,
        top: y,
        transform: `translate(${tx},-50%)${rot ? " rotate(-90deg)" : ""}`,
        whiteSpace: "nowrap",
        lineHeight: 1,
        ...style,
      }}
    >
      {children}
    </div>
  );
}
const I = ({ children }: any) => <span style={{ fontStyle: "italic" }}>{children}</span>;
const Rel = ({ children }: any) => <span style={{ margin: "0 0.3em" }}>{children}</span>;
const Gap = () => <span style={{ display: "inline-block", width: "0.45em" }} />;
const Sub = ({ children }: any) => (
  <span style={{ fontSize: "0.7em", fontStyle: "italic", position: "relative", top: "0.32em", marginLeft: "0.03em" }}>{children}</span>
);
const Omega = () => <span style={{ fontFamily: SERIF, fontStyle: "italic" }}>ω</span>;

function smallTitle(g: string, n: string, p: string) {
  return (
    <>
      <I>γ</I><Rel>=</Rel>{g},<Gap /><I>N</I><Rel>=</Rel>{n},<Gap /><I>P</I><Rel>→</Rel>{p}
    </>
  );
}
function bigTitle(g: string, t: string) {
  return (
    <>
      <I>γ</I><Rel>=</Rel>{g},<Gap /><I>N</I><Rel>=</Rel>1,<Gap /><I>T</I><Rel>=</Rel>{t}<I>T</I><Sub>c</Sub>
    </>
  );
}

const SMALL_TEXT: any[] = [
  { id: "a0", title: smallTitle("0.3", "1", "0"), tx: 253, ty: 17, labs: LAB_A, ly: [93, 158, 213, 276, 328], ylx: 32 },
  { id: "aI", title: smallTitle("0.3", "1", "∞"), tx: 763, ty: 22, labs: LAB_A, ly: [57, 123, 180, 246, 310], ylx: 532 },
  { id: "b0", title: smallTitle("0.3", "1.5", "0"), tx: 263, ty: 443, labs: LAB_B, ly: [467, 530, 598, 678, 742], ylx: 32 },
  { id: "bI", title: smallTitle("0.3", "1.5", "∞"), tx: 767, ty: 445, labs: LAB_B, ly: [481, 545, 603, 666, 718], ylx: 532 },
  { id: "c0", title: smallTitle("0.9", "1", "0"), tx: 245, ty: 849, labs: LAB_C, ly: [873, 928, 1002, 1075, 1160], ylx: 32 },
  { id: "cI", title: smallTitle("0.9", "1", "∞"), tx: 760, ty: 853, labs: LAB_C, ly: [877, 922, 1002, 1055, 1135], ylx: 532 },
  { id: "d0", title: smallTitle("0.9", "1.2", "0"), tx: 252, ty: 1267, labs: LAB_D, ly: [1320, 1372, 1433, 1498, 1575], ylx: 32 },
  { id: "dI", title: smallTitle("0.9", "1.2", "∞"), tx: 763, ty: 1267, labs: LAB_D, ly: [1307, 1362, 1427, 1473, 1545], ylx: 532 },
];

const BIG_TEXT: any[] = [
  { id: "E", title: bigTitle("0.3", "0.28"), tx: 1340, ty: 39, ylab: true, inf: [1561, 144], zero: [1551, 680] },
  { id: "F", title: bigTitle("0.9", "0.09"), tx: 1873, ty: 39, ylab: false, inf: [2092, 144], zero: [2087, 680] },
  { id: "G", title: bigTitle("0.3", "0.97"), tx: 1340, ty: 863, ylab: true, inf: [1561, 920], zero: [1551, 1457] },
  { id: "H", title: bigTitle("0.9", "0.97"), tx: 1868, ty: 863, ylab: false, inf: [2092, 931], zero: [2087, 1476] },
];

export default function App() {
  const specById: any = {};
  SPECS.forEach((s) => (specById[s.id] = s));
  return (
    <div style={{ position: "absolute", left: 0, top: 0, width: 2134, height: 1667, background: "#ffffff", overflow: "hidden" }}>
      {SPECS.map((s) => (
        <PanelChart key={s.id} spec={s} />
      ))}
      {SMALL_TEXT.map((t) => {
        const s = specById[t.id];
        return (
          <React.Fragment key={"t" + t.id}>
            <Txt x={t.tx} y={t.ty} style={{ fontFamily: SERIF, fontSize: 27, color: "#000" }}>{t.title}</Txt>
            {t.labs.map((lab: string, i: number) => (
              <Txt key={lab + i} x={s.R - 6} y={t.ly[i]} anchor="r" style={{ fontFamily: SERIF, fontSize: 26, color: "#000" }}>
                {lab}<I>T</I><Sub>c</Sub>
              </Txt>
            ))}
            <Txt x={t.ylx} y={(s.T + s.B) / 2} rot style={{ fontFamily: SANS, fontSize: 24, color: "#262626" }}>
              A(<Omega />) in a.u.
            </Txt>
            <Txt x={(s.L + s.R) / 2} y={s.B + 54} style={{ fontFamily: SANS, fontSize: 24, color: "#262626" }}>
              <Omega />/g
            </Txt>
          </React.Fragment>
        );
      })}
      {BIG_TEXT.map((t) => {
        const s = specById[t.id];
        return (
          <React.Fragment key={"b" + t.id}>
            <Txt x={t.tx} y={t.ty} style={{ fontFamily: SERIF, fontSize: 41, color: "#000" }}>{t.title}</Txt>
            <Txt x={t.inf[0]} y={t.inf[1]} anchor="r" style={{ fontFamily: SERIF, fontSize: 30, color: "#000" }}>
              <I>P</I><Rel>→</Rel>∞
            </Txt>
            <Txt x={t.zero[0]} y={t.zero[1]} anchor="r" style={{ fontFamily: SERIF, fontSize: 30, color: "#000" }}>
              <I>P</I><Rel>→</Rel>0
            </Txt>
            {t.ylab && (
              <Txt x={1076} y={(s.T + s.B) / 2} rot style={{ fontFamily: SANS, fontSize: 38, color: "#262626" }}>
                A(<Omega />) in a.u.
              </Txt>
            )}
            <Txt x={(s.L + s.R) / 2} y={s.B + 89} style={{ fontFamily: SANS, fontSize: 37, color: "#262626" }}>
              <Omega />/g
            </Txt>
          </React.Fragment>
        );
      })}
    </div>
  );
}
